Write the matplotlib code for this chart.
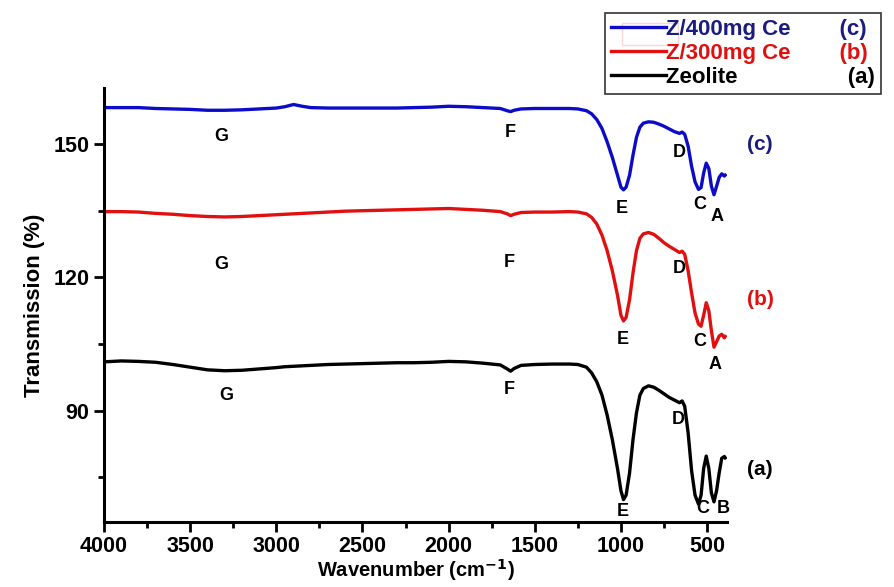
import matplotlib.pyplot as plt
from matplotlib.patches import Rectangle

plt.rcParams['font.family'] = ['Liberation Sans', 'DejaVu Sans']
plt.rcParams['font.weight'] = 'bold'
plt.rcParams['mathtext.default'] = 'bf'

# Wavenumber grid (cm-1)
wavenumber = [4000, 3900, 3800, 3700, 3600, 3500, 3400, 3300, 3200, 3100,
              3000, 2950, 2900, 2850, 2800, 2700, 2600, 2500, 2400, 2300,
              2200, 2100, 2000, 1900, 1800, 1700, 1660, 1640, 1620, 1580,
              1500, 1400, 1300, 1250, 1200, 1170, 1140, 1110, 1080, 1050,
              1020, 1000, 985, 970, 950, 930, 910, 890, 870, 840,
              810, 780, 750, 720, 690, 660, 645, 630, 610, 590,
              570, 550, 535, 520, 505, 490, 475, 460, 445, 430,
              415, 400, 395]

# (c) Z/400mg Ce
trans_c = [158.2, 158.2, 158.2, 158.0, 157.9, 157.8, 157.6, 157.6, 157.7, 157.9,
           158.1, 158.4, 158.9, 158.5, 158.2, 158.1, 158.1, 158.1, 158.1, 158.1,
           158.2, 158.3, 158.5, 158.4, 158.2, 158.0, 157.5, 157.3, 157.6, 157.9,
           158.0, 158.0, 158.0, 157.9, 157.5, 156.8, 155.5, 153.5, 150.5, 147.0,
           143.0, 140.3, 139.7, 140.3, 143.0, 147.5, 151.5, 153.8, 154.7, 155.0,
           154.9, 154.5, 154.0, 153.4, 152.8, 152.4, 152.7, 152.2, 149.5, 145.0,
           141.5, 139.8, 140.2, 143.5, 145.7, 144.5, 140.5, 138.6, 140.5, 142.5,
           143.3, 142.8, 143.0]

# (b) Z/300mg Ce
trans_b = [134.8, 134.8, 134.7, 134.4, 134.2, 133.9, 133.7, 133.6, 133.7, 133.9,
           134.1, 134.2, 134.3, 134.4, 134.5, 134.7, 134.9, 135.0, 135.1, 135.2,
           135.3, 135.4, 135.5, 135.3, 135.1, 134.8, 134.3, 133.9, 134.2, 134.6,
           134.7, 134.7, 134.8, 134.7, 134.3, 133.5, 132.0, 129.5, 126.0, 121.5,
           116.0, 111.5, 110.2, 111.0, 115.0, 121.0, 126.0, 128.8, 129.8, 130.1,
           129.7, 128.8, 127.8, 127.0, 126.3, 125.6, 125.9, 125.2, 121.5, 116.5,
           112.0, 109.5, 109.0, 111.5, 114.3, 112.5, 108.0, 104.3, 105.5, 106.8,
           107.2, 106.4, 106.7]

# (a) Zeolite
trans_a = [101.0, 101.2, 101.1, 100.9, 100.4, 99.8, 99.2, 99.0, 99.1, 99.4,
           99.7, 99.9, 100.0, 100.1, 100.2, 100.4, 100.5, 100.6, 100.7, 100.8,
           100.8, 100.9, 101.1, 101.0, 100.7, 100.3, 99.4, 98.9, 99.5, 100.2,
           100.4, 100.5, 100.5, 100.4, 99.8, 98.5, 96.5, 93.5, 89.0, 83.5,
           77.0, 72.0, 70.0, 71.0, 76.0, 83.5, 89.5, 93.5, 95.0, 95.6,
           95.3, 94.6, 93.8, 93.0, 92.4, 91.8, 92.2, 91.0, 85.0, 76.5,
           71.0, 69.0, 71.0, 77.0, 79.8, 77.0, 71.5, 69.5, 72.0, 76.0,
           79.3, 79.7, 79.4]

# peak letters: (letter, wavenumber, transmission)
peaks_c = [('G', 3320, 151.6), ('F', 1640, 152.7), ('E', 995, 135.6),
           ('D', 660, 148.2), ('C', 540, 136.3), ('A', 444, 133.6)]
peaks_b = [('G', 3320, 122.8), ('F', 1650, 123.3), ('E', 990, 106.0),
           ('D', 660, 122.1), ('C', 540, 105.5), ('A', 453, 100.3)]
peaks_a = [('G', 3290, 93.4), ('F', 1650, 94.7), ('E', 990, 67.4),
           ('D', 670, 88.0), ('C', 527, 67.9), ('B', 407, 67.9)]

blue = '#0c0cc8'
red = '#e01010'
navy = '#1c1c80'

fig = plt.figure(figsize=(8.94, 5.87), dpi=100)
ax = fig.add_axes([0.1163, 0.111, 0.697, 0.739])

ax.plot(wavenumber, trans_c, color=blue, lw=2.4, label='Z/400mg Ce        (c)')
ax.plot(wavenumber, trans_b, color=red, lw=2.4, label='Z/300mg Ce        (b)')
ax.plot(wavenumber, trans_a, color='black', lw=2.4, label='Zeolite                  (a)')

for peaks in (peaks_c, peaks_b, peaks_a):
    for letter, wn, tr in peaks:
        ax.text(wn, tr, letter, fontsize=13, fontweight='bold', ha='center', va='center')

ax.text(192, 149.8, '(c)', color=navy, fontsize=15, fontweight='bold', ha='center', va='center', clip_on=False)
ax.text(192, 115.0, '(b)', color=red, fontsize=15, fontweight='bold', ha='center', va='center', clip_on=False)
ax.text(192, 76.8, '(a)', color='black', fontsize=15, fontweight='bold', ha='center', va='center', clip_on=False)

ax.set_xlim(4000, 384)
ax.set_ylim(65, 162.6)
ax.set_xticks([4000, 3500, 3000, 2500, 2000, 1500, 1000, 500])
ax.set_xticks([3750, 3250, 2750, 2250, 1750, 1250, 750], minor=True)
ax.set_yticks([90, 120, 150])
ax.set_yticks([75, 105, 135], minor=True)
ax.spines['top'].set_visible(False)
ax.spines['right'].set_visible(False)
ax.spines['left'].set_linewidth(2.2)
ax.spines['bottom'].set_linewidth(2.2)
ax.tick_params(which='major', length=7, width=2, labelsize=15.5, direction='out')
ax.tick_params(which='minor', length=4, width=2, direction='out')
for lbl in ax.get_xticklabels() + ax.get_yticklabels():
    lbl.set_fontweight('bold')

ax.set_xlabel('Wavenumber (cm$^{-1}$)', fontsize=14.5, fontweight='bold')
ax.xaxis.label.set_va('center')
ax.xaxis.set_label_coords(0.5, -0.112)
ax.set_ylabel('Transmission (%)', fontsize=16, fontweight='bold', labelpad=6)

leg = fig.legend(loc='upper left', bbox_to_anchor=(605 / 894, 1 - 13 / 587), frameon=True,
                 fancybox=False, edgecolor='black', handlelength=2.5,
                 handletextpad=0.0, labelspacing=0.15, borderpad=0.25,
                 borderaxespad=0.0,
                 prop={'weight': 'bold', 'size': 16},
                 labelcolor=[navy, red, 'black'])
leg.get_frame().set_linewidth(1.2)

fig.patches.append(Rectangle((622 / 894, 1 - 45 / 587), 56 / 894, 22 / 587,
                             transform=fig.transFigure, fill=False,
                             edgecolor='#d04040', lw=1.0))

fig.savefig('out.png', dpi=100)
